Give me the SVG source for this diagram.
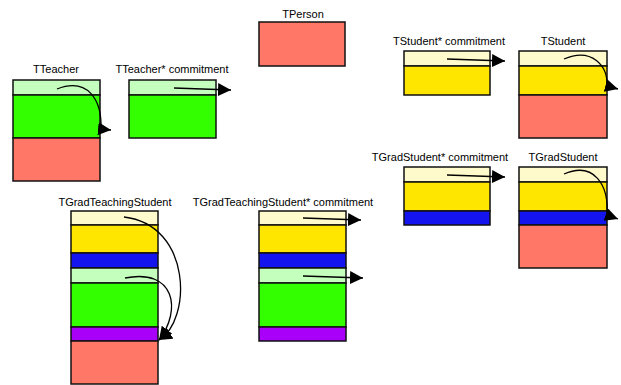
<svg xmlns="http://www.w3.org/2000/svg" width="621" height="385" viewBox="0 0 621 385">
<style>
rect{stroke:#111;stroke-width:1.5}
.ly{fill:#FFFACC}.y{fill:#FFE600}.b{fill:#1414EE}.lg{fill:#C4FFBE}.g{fill:#33FF00}.p{fill:#A800F8}.s{fill:#FF7766}
text{font-family:"Liberation Sans",Arial,sans-serif;font-size:11px;fill:#000;text-anchor:middle}
.c path{fill:none;stroke:#000;stroke-width:1.3;marker-end:url(#ah)}
</style>
<defs>
<marker id="ah" markerUnits="userSpaceOnUse" markerWidth="14" markerHeight="14" refX="13" refY="6.5" orient="auto">
<path d="M0,0 L13,6.5 L0,13 z" fill="#000"/>
</marker>
</defs>
<rect width="621" height="385" fill="#fff" style="stroke:none"/>
<g id="TPerson">
<text x="303" y="18">TPerson</text>
<rect class="s" x="259" y="22" width="86" height="44"/>
</g>
<g id="TTeacher">
<text x="56" y="73">TTeacher</text>
<rect class="lg" x="13" y="80" width="87" height="15"/>
<rect class="g" x="13" y="95" width="87" height="43"/>
<rect class="s" x="13" y="138" width="87" height="43"/>
</g>
<g id="TTeacherCommitment">
<text x="172" y="73">TTeacher* commitment</text>
<rect class="lg" x="129" y="80" width="87" height="15"/>
<rect class="g" x="129" y="95" width="87" height="43"/>
</g>
<g id="TStudentCommitment">
<text x="449" y="45">TStudent* commitment</text>
<rect class="ly" x="404" y="51" width="86" height="15"/>
<rect class="y" x="404" y="66" width="86" height="29"/>
</g>
<g id="TStudent">
<text x="563" y="45">TStudent</text>
<rect class="ly" x="519" y="51" width="88" height="15"/>
<rect class="y" x="519" y="66" width="88" height="29"/>
<rect class="s" x="519" y="95" width="88" height="43"/>
</g>
<g id="TGradStudentCommitment">
<text x="440" y="161">TGradStudent* commitment</text>
<rect class="ly" x="404" y="167" width="86" height="15"/>
<rect class="y" x="404" y="182" width="86" height="29"/>
<rect class="b" x="404" y="211" width="86" height="14"/>
</g>
<g id="TGradStudent">
<text x="563" y="161">TGradStudent</text>
<rect class="ly" x="519" y="167" width="88" height="15"/>
<rect class="y" x="519" y="182" width="88" height="29"/>
<rect class="b" x="519" y="211" width="88" height="14"/>
<rect class="s" x="519" y="225" width="88" height="43"/>
</g>
<g id="TGradTeachingStudent">
<text x="115" y="206">TGradTeachingStudent</text>
<rect class="ly" x="71" y="211" width="87" height="14"/>
<rect class="y" x="71" y="225" width="87" height="28"/>
<rect class="b" x="71" y="253" width="87" height="15"/>
<rect class="lg" x="71" y="268" width="87" height="15"/>
<rect class="g" x="71" y="283" width="87" height="44"/>
<rect class="p" x="71" y="327" width="87" height="14"/>
<rect class="s" x="71" y="341" width="87" height="43"/>
</g>
<g id="TGradTeachingStudentCommitment">
<text x="283" y="206">TGradTeachingStudent* commitment</text>
<rect class="ly" x="259" y="211" width="87" height="14"/>
<rect class="y" x="259" y="225" width="87" height="28"/>
<rect class="b" x="259" y="253" width="87" height="15"/>
<rect class="lg" x="259" y="268" width="87" height="15"/>
<rect class="g" x="259" y="283" width="87" height="44"/>
<rect class="p" x="259" y="327" width="87" height="14"/>
</g>
<g id="connectors" class="c">
<path d="M57,89 C88,77 102,100 101,129 L111,130"/>
<path d="M174,88 L231,90"/>
<path d="M447,59 L505,61"/>
<path d="M564,59 C592,47 608,66 607,86 L618,89"/>
<path d="M447,175 L505,177"/>
<path d="M564,174 C594,161 609,185 607,215 L618,219"/>
<path d="M124,217 C192,225 192,320 159,340"/>
<path d="M125,278 C175,268 182,310 159,340"/>
<path d="M303,218 L361,220"/>
<path d="M303,276 L363,278"/>
</g>
</svg>
